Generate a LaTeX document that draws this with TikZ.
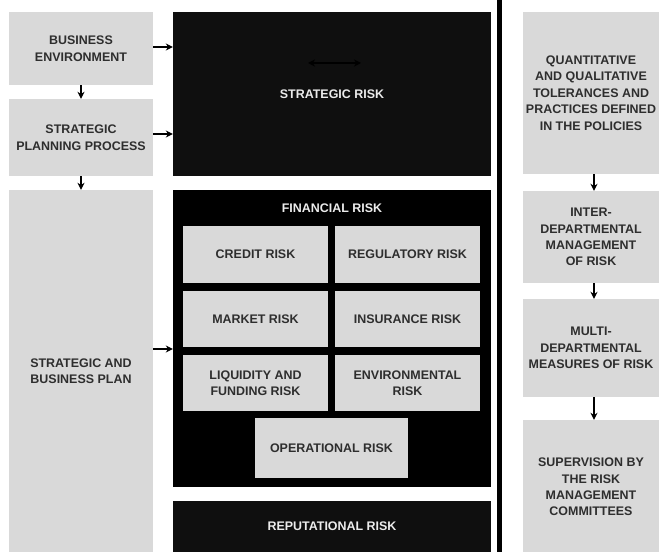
\documentclass[tikz,border=0pt]{standalone}
\usepackage{fontspec}
\setmainfont{Liberation Sans}
\usepackage{xcolor}
\usetikzlibrary{arrows.meta,positioning}

\definecolor{boxgray}{HTML}{D9D9D9}
\definecolor{boxblack}{HTML}{0F0F0F}
\definecolor{textgray}{HTML}{2E2E2E}
\definecolor{textwhite}{HTML}{ECECEC}

\begin{document}
\begin{tikzpicture}[x=1bp, y=-1bp,
        graybox/.style={fill=boxgray, text=textgray, align=center, inner sep=0pt,
            font=\bfseries\fontsize{12.5}{16.5}\selectfont},
        blackbox/.style={fill=boxblack, text=textwhite, align=center, inner sep=0pt,
            font=\bfseries\fontsize{12.5}{16.5}\selectfont},
        flow/.style={-{Stealth[length=7bp, width=7bp]}, line width=1.6bp}
    ]
                \useasboundingbox (0,0) rectangle (659,552);
                % left column
                \node[graybox, minimum width=144bp, minimum height=73bp] (benv) at (81,48.5) {BUSINESS\\ENVIRONMENT};
                \node[graybox, minimum width=144bp, minimum height=77bp] (spp) at (81,137.5) {STRATEGIC\\PLANNING PROCESS};
                \node[graybox, minimum width=144bp, minimum height=362bp] (sbp) at (81,371) {STRATEGIC AND\\BUSINESS PLAN};

                % risk blocks
                \node[blackbox, minimum width=318bp, minimum height=164bp] (strat) at (332,94) {STRATEGIC RISK};
                \node[blackbox, fill=black, minimum width=318bp, minimum height=297bp] (fin) at (332,338.5) {};
                \node[text=textwhite, font=\bfseries\fontsize{12.5}{16.5}\selectfont] (fintitle) at (332,208) {FINANCIAL RISK};
                \node[blackbox, minimum width=318bp, minimum height=51bp] (rep) at (332,526.5) {REPUTATIONAL RISK};

                \node[graybox, minimum width=145bp, minimum height=57bp] (credit) at (255.5,254.5) {CREDIT RISK};
                \node[graybox, minimum width=145bp, minimum height=57bp] (reg) at (407.5,254.5) {REGULATORY RISK};
                \node[graybox, minimum width=145bp, minimum height=56bp] (market) at (255.5,319) {MARKET RISK};
                \node[graybox, minimum width=145bp, minimum height=56bp] (ins) at (407.5,319) {INSURANCE RISK};
                \node[graybox, minimum width=145bp, minimum height=56bp] (liq) at (255.5,383) {LIQUIDITY AND\\FUNDING RISK};
                \node[graybox, minimum width=145bp, minimum height=56bp] (env) at (407.5,383) {ENVIRONMENTAL\\RISK};
                \node[graybox, minimum width=153bp, minimum height=60bp] (oper) at (331.5,448) {OPERATIONAL RISK};

                % divider
                \fill[black] (497,0) rectangle (502,552);

                % right column
                \node[graybox, minimum width=136bp, minimum height=162bp] (tol) at (591,93) {QUANTITATIVE\\AND QUALITATIVE\\TOLERANCES AND\\PRACTICES DEFINED\\IN THE POLICIES};
                \node[graybox, minimum width=136bp, minimum height=92bp] (inter) at (591,237) {INTER-\\DEPARTMENTAL\\MANAGEMENT\\OF RISK};
                \node[graybox, minimum width=136bp, minimum height=98bp] (multi) at (591,348) {MULTI-\\DEPARTMENTAL\\MEASURES OF RISK};
                \node[graybox, minimum width=136bp, minimum height=134bp] (sup) at (591,487) {SUPERVISION BY\\THE RISK\\MANAGEMENT\\COMMITTEES};

                % arrows
                \draw[flow] (benv) -- (spp);
                \draw[flow] (spp) -- (sbp);
                \draw[flow] ([yshift=1.5bp]benv.east) -- ([yshift=1.5bp]benv.east -| strat.west);
                \draw[flow] ([yshift=3.5bp]spp.east) -- ([yshift=3.5bp]spp.east -| strat.west);
                \draw[flow] ([yshift=22bp]sbp.east) -- ([yshift=22bp]sbp.east -| fin.west);
                \draw[flow] ([xshift=3bp]tol.south) -- ([xshift=3bp]inter.north);
                \draw[flow] ([xshift=3bp]inter.south) -- ([xshift=3bp]multi.north);
                \draw[flow] ([xshift=3bp]multi.south) -- ([xshift=3bp]sup.north);

                \coordinate (sl) at (308,63);
                \coordinate (sr) at (361,63);
                \draw[flow, {Stealth[length=7bp, width=7bp]}-{Stealth[length=7bp, width=7bp]}, black] (sl) -- (sr);
            \end{tikzpicture}
\end{document}
